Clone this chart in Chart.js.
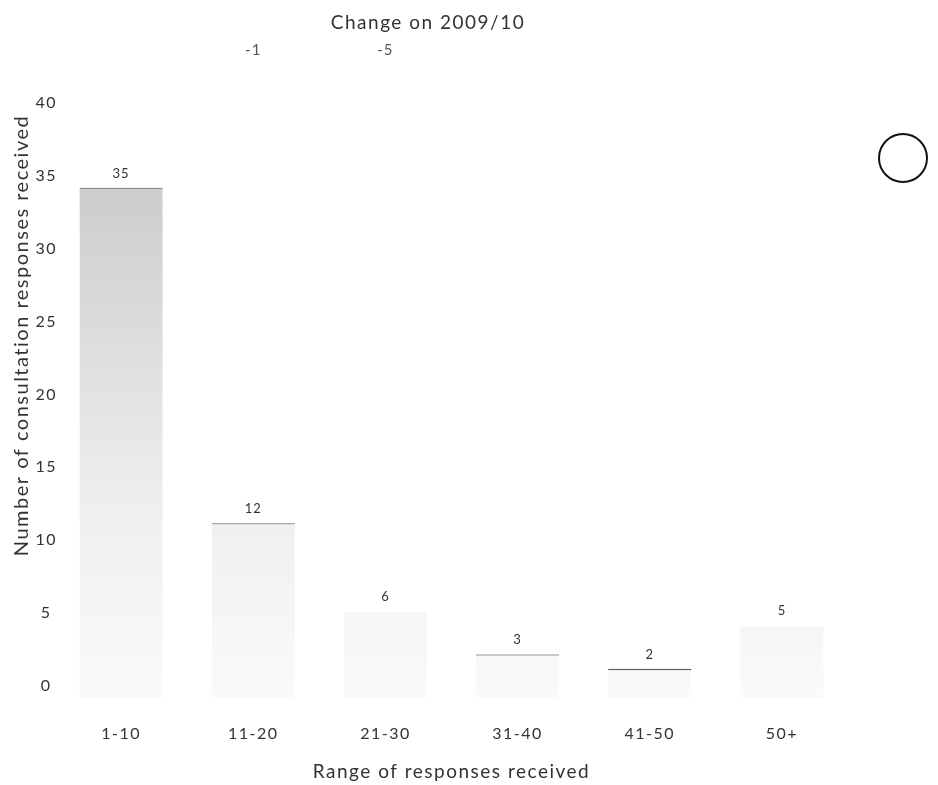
<!DOCTYPE html>
<html><head><meta charset="utf-8">
<script src="https://cdn.jsdelivr.net/npm/chart.js@4"></script>
<style>
html,body{margin:0;padding:0;background:#fff;}
#wrap{position:relative;width:938px;height:785px;}
#punch{position:absolute;left:878px;top:133px;width:46px;height:46px;border:2.5px solid #111;border-radius:50%;}
</style></head>
<body><div id="wrap"><canvas id="c" width="938" height="785"></canvas><div id="punch"></div></div>
<script>
const categories = ['1-10', '11-20', '21-30', '31-40', '41-50', '50+'];
const responses = [35, 12, 6, 3, 2, 5];
const dataLabels = ['35', '12', '6', '3', '2', '5'];
const changeOn200910 = ['', '-1', '-5', '', '', ''];
const yTickValues = [0, 5, 10, 15, 20, 25, 30, 35, 40];
const topBorderColors = ['#8a8a8a', '#a8a8a8', 'rgba(0,0,0,0)', '#a0a0a0', '#5a5a5a', 'rgba(0,0,0,0)'];

const FONT = 'Lato, "Open Sans", sans-serif';
const TEXT = '#333';

const spacing = {
  id: 'spacing',
  beforeLayout(c) { c.ctx.letterSpacing = '1.5px'; },
  beforeDraw(c) { c.ctx.letterSpacing = '1.5px'; }
};

const labelsPlugin = {
  id: 'labelsPlugin',
  afterDatasetsDraw(chart) {
    const ctx = chart.ctx;
    const meta = chart.getDatasetMeta(0);
    const xs = chart.scales.x;
    ctx.save();
    ctx.letterSpacing = '1px';
    ctx.fillStyle = TEXT;
    ctx.textAlign = 'center';
    ctx.textBaseline = 'middle';
    ctx.font = '13px ' + FONT;
    meta.data.forEach((bar, i) => {
      ctx.fillText(dataLabels[i], bar.x, bar.y - 14);
    });
    ctx.fillStyle = '#555';
    ctx.font = '15px ' + FONT;
    changeOn200910.forEach((t, i) => {
      if (t) ctx.fillText(t, xs.getPixelForValue(i), chart.chartArea.top - 65);
    });
    ctx.restore();
  }
};

new Chart(document.getElementById('c'), {
  type: 'bar',
  data: {
    labels: categories,
    datasets: [{
      data: responses,
      backgroundColor: (ctx) => {
        const ch = ctx.chart; const a = ch.chartArea;
        if (!a) return '#e6e6e6';
        const g = ch.ctx.createLinearGradient(0, a.top, 0, a.bottom);
        g.addColorStop(0, '#c6c6c6');
        g.addColorStop(0.13, '#cdcdcd');
        g.addColorStop(0.5, '#e4e4e4');
        g.addColorStop(0.7, '#f0f0f0');
        g.addColorStop(1, '#fafafa');
        return g;
      },
      borderColor: topBorderColors,
      borderWidth: {top: 1.5, left: 0, right: 0, bottom: 0},
      borderSkipped: 'start',
      barPercentage: 0.63,
      categoryPercentage: 1
    }]
  },
  options: {
    responsive: false,
    animation: false,
    devicePixelRatio: 1,
    layout: {padding: {left: 8, right: 90, top: 0, bottom: 0}},
    plugins: {
      legend: {display: false},
      tooltip: {enabled: false},
      title: {
        display: true,
        text: 'Change on 2009/10',
        color: TEXT,
        font: {family: FONT, size: 19, weight: 'normal'},
        padding: {top: 11, bottom: 81}
      }
    },
    scales: {
      x: {
        grid: {display: false},
        border: {display: false},
        ticks: {color: TEXT, font: {family: FONT, size: 16}, padding: 18},
        title: {display: true, text: 'Range of responses received', color: TEXT,
                font: {family: FONT, size: 19}, padding: {top: 0, bottom: 2}},
        afterFit(s) { s.height = 87; }
      },
      y: {
        min: 0, max: 40,
        grid: {display: false},
        border: {display: false},
        afterBuildTicks(s) { s.ticks = yTickValues.map(v => ({value: v})); },
        ticks: {color: TEXT, font: {family: FONT, size: 16}, padding: -10,
                labelOffset: -12, crossAlign: 'center'},
        title: {display: true, text: 'Number of consultation responses received', color: TEXT,
                align: 'end', font: {family: FONT, size: 20}, padding: {top: 2, bottom: 0}},
        afterFit(s) { s.width = 47; }
      }
    }
  },
  plugins: [spacing, labelsPlugin]
});
</script>
</body></html>
